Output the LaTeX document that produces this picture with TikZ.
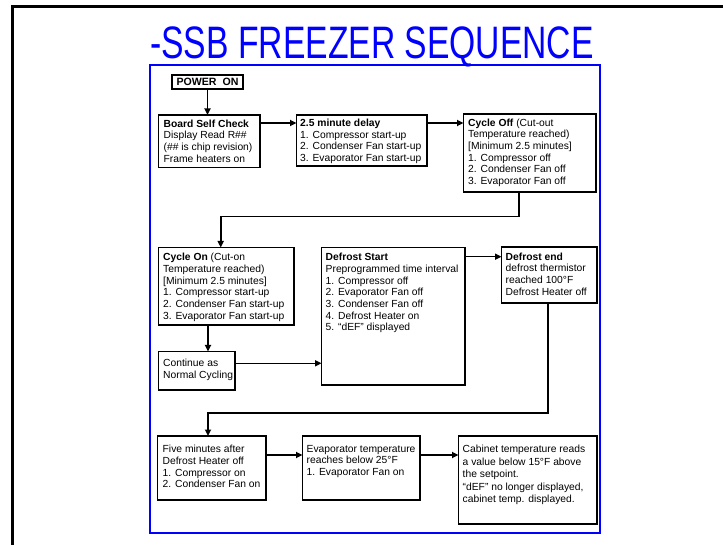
\documentclass[tikz,border=0pt]{standalone}
\usepackage{fontspec}
\usepackage{graphicx}
\setmainfont{Liberation Sans}
\usetikzlibrary{arrows.meta}
\definecolor{frameblue}{RGB}{0,0,255}
\tikzset{
  box/.style={draw=black, line width=1.8pt, fill=white, anchor=north west, inner sep=0pt, outer sep=0pt},
  txt/.style={anchor=north west, inner sep=0pt, align=left, font=\fontsize{10.3}{11.7}\selectfont},
  arr/.style={line width=1.6pt, -{Triangle[length=6.5pt,width=6pt]}},
}
\begin{document}
\begin{tikzpicture}[x=1pt,y=-1pt]
\useasboundingbox (0,0) rectangle (723,545);
\fill[white] (0,0) rectangle (723,545);
% outer frame
\draw[line width=2.2pt] (723,6.5) -- (12.5,6.5) -- (12.5,545);
% title
\node[anchor=base, text=frameblue, inner sep=0pt, font=\fontsize{45.5}{50}\selectfont] (title) at (372,59) {\scalebox{0.74}[1]{-SSB FREEZER SEQUENCE}};
% blue frame
\draw[frameblue, line width=2pt] (149.5,65) rectangle (600,532.5);

% boxes
\node[box, minimum width=71pt, minimum height=14pt, font=\bfseries\fontsize{10.6}{12}\selectfont] (power) at (172,75) {POWER\ \ ON};
\node[box, minimum width=101.5pt, minimum height=52.5pt] (board) at (158.5,115) {};
\node[box, minimum width=130.5pt, minimum height=51pt] (delay) at (296.5,115) {};
\node[box, minimum width=132.5pt, minimum height=78pt] (cycleoff) at (463.5,114) {};
\node[box, minimum width=135.5pt, minimum height=77.5pt] (cycleon) at (158.5,247.5) {};
\node[box, minimum width=76.5pt, minimum height=38.5pt] (cont) at (158.5,351.5) {};
\node[box, minimum width=143.5pt, minimum height=137.5pt] (dstart) at (321.5,247.5) {};
\node[box, minimum width=95.5pt, minimum height=56pt] (dend) at (501.5,247) {};
\node[box, minimum width=108.5pt, minimum height=64pt] (five) at (157.5,436) {};
\node[box, minimum width=117.5pt, minimum height=64pt] (evap) at (302.5,436) {};
\node[box, minimum width=138.5pt, minimum height=88pt] (cab) at (458.5,436) {};

% texts
\node[txt] (boardT) at ([shift={(5,4.5)}]board.north west) {\textbf{Board Self Check}\\Display Read R\#\#\\(\#\# is chip revision)\\Frame heaters on};
\node[txt] (delayT) at ([shift={(3.5,3.8)}]delay.north west) {\textbf{2.5 minute delay}\\1. Compressor start-up\\2. Condenser Fan start-up\\3. Evaporator Fan start-up};
\node[txt] (cycleoffT) at ([shift={(4.5,4.5)}]cycleoff.north west) {\textbf{Cycle Off} (Cut-out\\Temperature reached)\\{[}Minimum 2.5 minutes]\\1. Compressor off\\2. Condenser Fan off\\3. Evaporator Fan off};
\node[txt] (cycleonT) at ([shift={(4.5,5.5)}]cycleon.north west) {\textbf{Cycle On} (Cut-on\\Temperature reached)\\{[}Minimum 2.5 minutes]\\1. Compressor start-up\\2. Condenser Fan start-up\\3. Evaporator Fan start-up};
\node[txt] (contT) at ([shift={(4.5,7.5)}]cont.north west) {Continue as\\Normal Cycling};
\node[txt] (dstartT) at ([shift={(4,5.5)}]dstart.north west) {\textbf{Defrost Start}\\Preprogrammed time interval\\1. Compressor off\\2. Evaporator Fan off\\3. Condenser Fan off\\4. Defrost Heater on\\5. “dEF” displayed};
\node[txt] (dendT) at ([shift={(4,5.5)}]dend.north west) {\textbf{Defrost end}\\defrost thermistor\\reached 100°F\\Defrost Heater off};
\node[txt] (fiveT) at ([shift={(5,9)}]five.north west) {Five minutes after\\Defrost Heater off\\1. Compressor on\\2. Condenser Fan on};
\node[txt] (evapT) at ([shift={(4,9)}]evap.north west) {Evaporator temperature\\reaches below 25°F\\1. Evaporator Fan on};
\node[txt, font=\fontsize{10.3}{12.5}\selectfont] (cabT) at ([shift={(4,9)}]cab.north west) {Cabinet temperature reads\\a value below 15°F above\\the setpoint.\\“dEF” no longer displayed,\\cabinet temp. displayed.};

% connectors
\draw[arr] (power.south) -- (board.north -| power.south);
\draw[arr] (board.east |- 0,123) -- (delay.west |- 0,123);
\draw[arr] (delay.east |- 0,123) -- (cycleoff.west |- 0,123);
\draw[arr] (cycleoff.south -| 519,0) |- (220.7,216.7) -- (cycleon.north -| 220.7,0);
\draw[arr] (cycleon.south -| 208,0) -- (cont.north -| 208,0);
\draw[arr] (cont.east |- 0,363.3) -- (dstart.west |- 0,363.3);
\draw[arr] (dstart.east |- 0,256.7) -- (dend.west |- 0,256.7);
\draw[arr] (dend.south -| 548,0) |- (208,413) -- (five.north -| 208,0);
\draw[arr] (five.east |- 0,455) -- (evap.west |- 0,455);
\draw[arr] (evap.east |- 0,455) -- (cab.west |- 0,455);
\end{tikzpicture}
\end{document}
